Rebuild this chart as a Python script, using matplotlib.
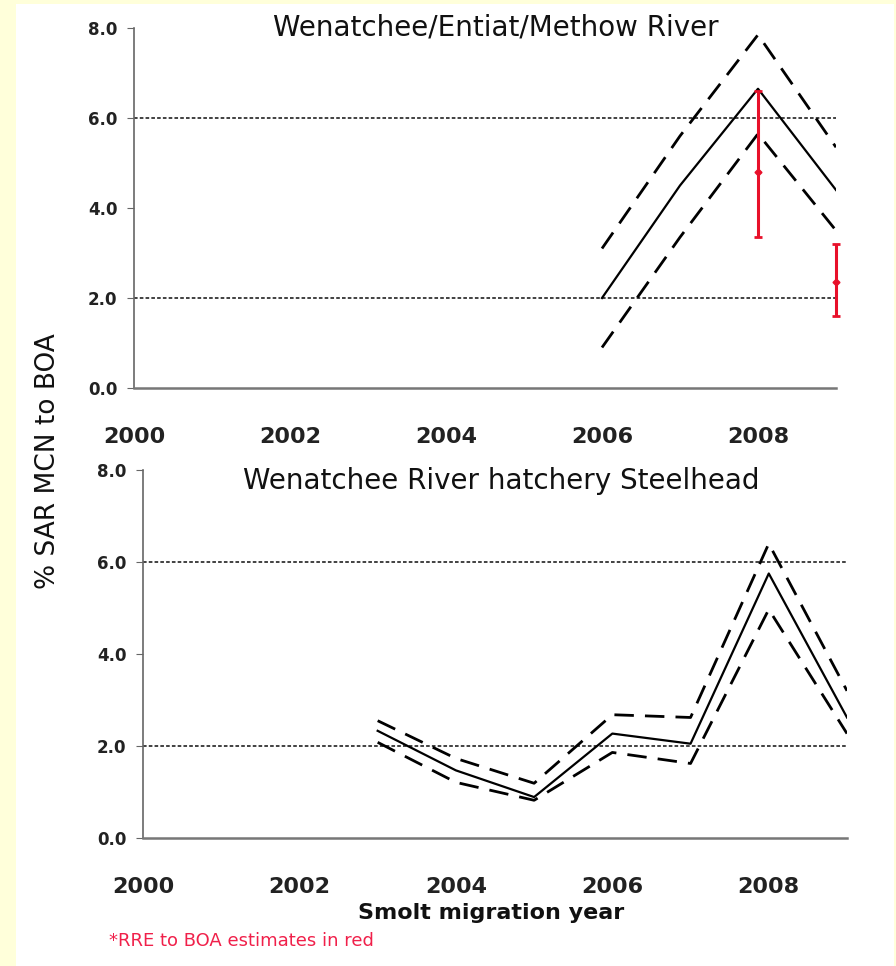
import matplotlib
matplotlib.use("Agg")
import matplotlib.pyplot as plt
from matplotlib.patches import Rectangle

# top panel: Wenatchee/Entiat/Methow River
years_top = [2006, 2007, 2008, 2009]
sar_top = [2.0, 4.5, 6.65, 4.4]
upper_top = [3.1, 5.6, 7.85, 5.35]
lower_top = [0.9, 3.35, 5.65, 3.5]

# RRE to BOA estimates (red)
rre_years = [2008, 2009]
rre_mid = [4.8, 2.35]
rre_low = [3.35, 1.6]
rre_high = [6.6, 3.2]

# bottom panel: Wenatchee River hatchery Steelhead
years_bot = [2003, 2004, 2005, 2006, 2007, 2008, 2009]
sar_bot = [2.33, 1.47, 0.89, 2.27, 2.05, 5.75, 2.62]
upper_bot = [2.55, 1.73, 1.19, 2.68, 2.62, 6.4, 3.2]
lower_bot = [2.08, 1.21, 0.82, 1.86, 1.62, 4.97, 2.27]

year_ticks = [2000, 2002, 2004, 2006, 2008]
y_ticks = [0, 2, 4, 6, 8]
ref_lines = [2.0, 6.0]

W, H = 896, 966
fig = plt.figure(figsize=(W / 100, H / 100), dpi=100)
fig.patch.set_facecolor("#FFFFDA")
fig.patches.append(Rectangle((16 / W, 0), 878 / W, 962 / H, transform=fig.transFigure,
                             facecolor="white", edgecolor="none", zorder=-10))

ax1 = fig.add_axes([134 / W, 1 - 388 / H, 702 / W, 360 / H])
ax2 = fig.add_axes([143 / W, 1 - 838 / H, 704 / W, 368 / H])

def style_axes(ax, minor_x):
    ax.set_facecolor("none")
    ax.set_xlim(2000, 2009)
    ax.set_ylim(0, 8)
    for s in ["top", "right"]:
        ax.spines[s].set_visible(False)
    ax.spines["left"].set_color("#666666")
    ax.spines["left"].set_linewidth(1.2)
    ax.spines["bottom"].set_color("#777777")
    ax.spines["bottom"].set_linewidth(1.8)
    ax.set_yticks(y_ticks)
    ax.set_yticklabels([f"{v:.1f}" for v in y_ticks], fontsize=12, fontweight="bold", color="#222222")
    ax.set_xticks(year_ticks)
    ax.set_xticklabels([str(v) for v in year_ticks], fontsize=16, fontweight="bold", color="#222222")
    ax.tick_params(axis="x", which="major", length=0, pad=28)
    ax.tick_params(axis="y", length=5, color="#666666", pad=7)
    ax.set_xticks(minor_x, minor=True)
    ax.tick_params(axis="x", which="minor", length=6, color="#666666", direction="out")
    for v in ref_lines:
        ax.axhline(v, color="#333333", lw=1.3, linestyle=(0, (2, 1.2)), zorder=1)

style_axes(ax1, [2004])
style_axes(ax2, [2002, 2004, 2006])

dash = (0, (7, 4))
ax1.plot(years_top, sar_top, color="black", lw=1.6, zorder=3)
ax1.plot(years_top, upper_top, color="black", lw=2.0, linestyle=dash, zorder=3)
ax1.plot(years_top, lower_top, color="black", lw=2.0, linestyle=dash, zorder=3)
ax1.errorbar(rre_years, rre_mid,
             yerr=[[m - l for m, l in zip(rre_mid, rre_low)],
                   [h - m for m, h in zip(rre_mid, rre_high)]],
             fmt="D", ms=3.5, color="#E8102A", ecolor="#E8102A", elinewidth=2.2,
             capsize=3, capthick=2, zorder=4, clip_on=False)

ax2.plot(years_bot, sar_bot, color="black", lw=1.6, zorder=3)
ax2.plot(years_bot, upper_bot, color="black", lw=2.0, linestyle=dash, zorder=3)
ax2.plot(years_bot, lower_bot, color="black", lw=2.0, linestyle=dash, zorder=3)

fig.text(496 / W, 1 - 28 / H, "Wenatchee/Entiat/Methow River", fontsize=20,
         ha="center", va="center", color="#111111")
fig.text(501 / W, 1 - 481 / H, "Wenatchee River hatchery Steelhead", fontsize=20,
         ha="center", va="center", color="#111111")
fig.text(48 / W, 1 - 461 / H, "% SAR MCN to BOA", fontsize=19, rotation=90,
         ha="center", va="center", color="#111111")
fig.text(491 / W, 1 - 913 / H, "Smolt migration year", fontsize=16, fontweight="semibold",
         ha="center", va="center", color="#111111")
fig.text(109 / W, 1 - 941 / H, "*RRE to BOA estimates in red", fontsize=13,
         ha="left", va="center", color="#F0204A")

fig.savefig("out.png", dpi=100, facecolor=fig.get_facecolor())
